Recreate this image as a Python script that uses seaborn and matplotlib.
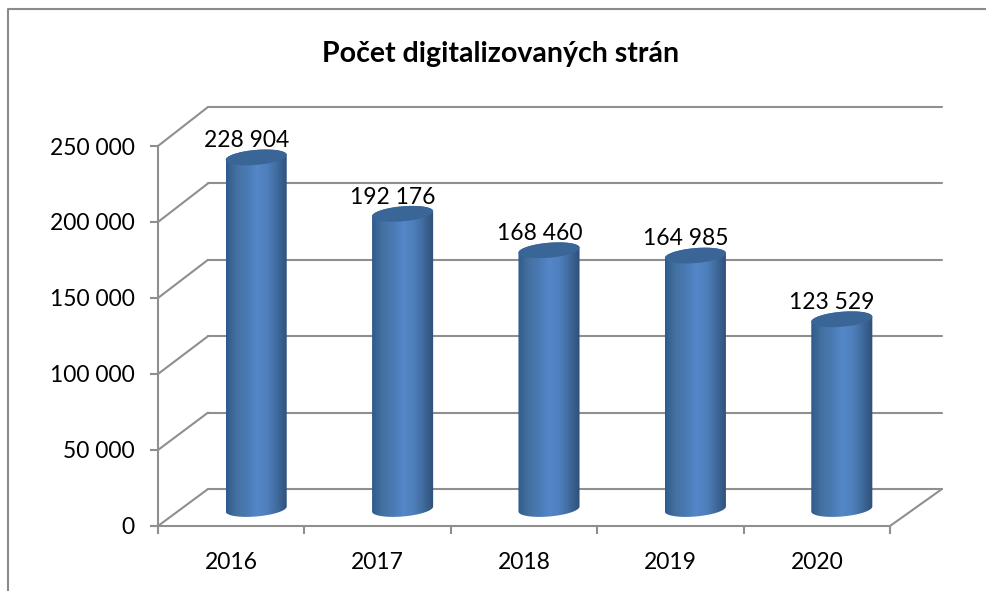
import matplotlib.pyplot as plt
import numpy as np
import pandas as pd
import seaborn as sns
from matplotlib.colors import LinearSegmentedColormap
from matplotlib.lines import Line2D
from matplotlib.patches import ConnectionPatch, PathPatch
from matplotlib.path import Path

years = ["2016", "2017", "2018", "2019", "2020"]
pages = [228904, 192176, 168460, 164985, 123529]
y_ticks = [0, 50000, 100000, 150000, 200000, 250000]
title = "Počet digitalizovaných strán"

W, H = 986, 591
GREY = "#8f8f8f"
Y_MAX = 250000
LW = 1.5
FONT = 16.5


def spaced(value):
    return f"{value:,}".replace(",", " ")


def box(left, bottom, width, height):
    # pixel box, measured from the top left of the image
    return [left / W, (H - bottom) / H, width / W, height / H]


sns.set_theme(style="white")
plt.rcParams["font.family"] = ["Lato", "DejaVu Sans"]

fig = plt.figure(figsize=(W / 100, H / 100), dpi=100, facecolor="white")
ax_back = fig.add_axes(box(208, 489, 734, 382), zorder=0)
ax_front = fig.add_axes(box(158, 526, 732, 380), zorder=1)
ax_cyl = fig.add_axes(box(183, 509, 732, 384), zorder=5)

for ax in (ax_back, ax_front, ax_cyl):
    ax.patch.set_visible(False)
    ax.set_xlim(-0.5, 4.5)
    ax.set_ylim(0, Y_MAX)

# back wall gridlines
ax_back.set_axis_off()
for v in y_ticks:
    ax_back.axhline(v, color=GREY, lw=LW, clip_on=False)

# front axis with the ticks and labels
sns.despine(ax=ax_front, top=True, right=True)
for side in ("left", "bottom"):
    ax_front.spines[side].set_color(GREY)
    ax_front.spines[side].set_linewidth(LW)
ax_front.set_yticks(y_ticks, [spaced(v) for v in y_ticks])
ax_front.set_xticks(np.arange(-0.5, 5, 1), [""] * 6)
ax_front.set_xticks(range(len(years)), years, minor=True)
ax_front.tick_params(axis="both", which="major", color=GREY, width=LW, length=6,
                     labelsize=FONT, labelcolor="black", left=True, bottom=True)
ax_front.tick_params(axis="y", pad=11)
ax_front.tick_params(axis="x", which="minor", length=0, labelsize=FONT,
                     labelcolor="black", pad=19)

# side walls and floor edge joining front and back
for v in y_ticks:
    fig.add_artist(ConnectionPatch((-0.5, v), (-0.5, v), "data", "data",
                                   axesA=ax_front, axesB=ax_back,
                                   color=GREY, lw=LW, zorder=1))
fig.add_artist(ConnectionPatch((4.5, 0), (4.5, 0), "data", "data",
                               axesA=ax_front, axesB=ax_back,
                               color=GREY, lw=LW, zorder=1))

# cylinders: seaborn bars give the geometry, a shaded image fills them
df = pd.DataFrame({"year": years, "pages": pages})
sns.barplot(data=df, x="year", y="pages", ax=ax_cyl, width=0.417,
            color="#4f81bd", saturation=1)
ax_cyl.set_axis_off()
ax_cyl.set_xlim(-0.5, 4.5)
ax_cyl.set_ylim(0, Y_MAX)

shade = LinearSegmentedColormap.from_list(
    "cyl", ["#2f5a8e", "#44719f", "#4a7ab4", "#5487c9", "#4f80bd", "#3f6a9c", "#2f4f78"]
)
RY = 7.5 / 384 * Y_MAX
TILT = 5 / 384 * Y_MAX
t = np.linspace(0, np.pi, 40)

for bar in list(ax_cyl.patches):
    x0, w, h = bar.get_x(), bar.get_width(), bar.get_height()
    bar.set_visible(False)
    cx = x0 + w / 2
    ex = np.cos(t) * w / 2
    upper = RY * np.sin(t) + TILT * np.cos(t) / 2
    lower = -RY * np.sin(t) + TILT * np.cos(t) / 2
    # outline of the body: bottom front edge, then the top back edge
    xs = np.r_[cx + ex[::-1], cx + ex]
    ys = np.r_[lower[::-1], h + upper]
    body = Path(np.c_[xs, ys])
    img = ax_cyl.imshow(np.linspace(0, 1, 128)[None, :], cmap=shade, aspect="auto",
                        extent=(x0, x0 + w, -2 * RY, h + 2 * RY), zorder=3)
    # the base hangs below y=0, so clip to the figure and not to the axes
    img.set_clip_box(fig.bbox)
    img.set_clip_path(PathPatch(body, transform=ax_cyl.transData))
    cap = Path(np.c_[np.r_[cx + ex, cx + ex[::-1]], np.r_[h + upper, h + lower[::-1]]])
    ax_cyl.add_patch(PathPatch(cap, facecolor="#3a6597", edgecolor="none", zorder=4,
                               clip_on=False))
    ax_cyl.annotate(spaced(int(h)), (cx, h), xytext=(-7, 12), textcoords="offset points",
                    ha="center", va="center", fontsize=FONT, color="black",
                    annotation_clip=False, zorder=6)

ax_cyl.set_xlim(-0.5, 4.5)
ax_cyl.set_ylim(0, Y_MAX)

fig.text(501 / W, 1 - 54 / H, title, ha="center", va="center", fontsize=20.5,
         fontweight="bold", color="black")

# chart frame, cut off at the right and bottom of the image
fig.add_artist(Line2D([7.5 / W, 7.5 / W, 1], [0, 1 - 8.5 / H, 1 - 8.5 / H],
                      color="#8a8a8a", lw=1.5))

fig.savefig("out.png", dpi=100)
plt.close(fig)
